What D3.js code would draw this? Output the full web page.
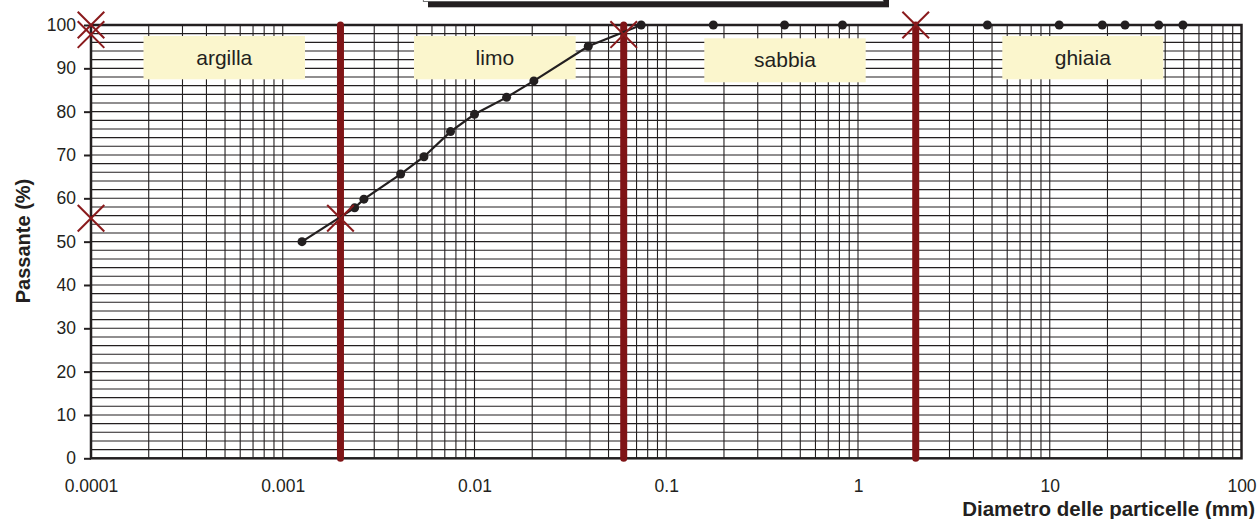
<!DOCTYPE html>
<html>
<head>
<meta charset="utf-8">
<script src="https://cdn.jsdelivr.net/npm/d3@7"></script>
<style>
  html, body { margin: 0; padding: 0; background: #ffffff; }
  svg { display: block; font-family: "Liberation Sans", Arial, sans-serif; }
</style>
</head>
<body>
<svg id="chart" width="1257" height="519"></svg>
<script>
// ---- data ----
const diameters = [0.00126, 0.00237, 0.00265, 0.00412, 0.00545, 0.0075, 0.0100, 0.0147, 0.0204, 0.0392, 0.074, 0.176, 0.414, 0.83, 4.73, 11.2, 18.8, 24.7, 37.0, 49.5];
const passing   = [50, 57.8, 59.8, 65.6, 69.6, 75.4, 79.4, 83.3, 87.1, 95.1, 100, 100, 100, 100, 100, 100, 100, 100, 100, 100];
const boundaries = [0.002, 0.06, 2];
const boundaryPassing = [55.4, 97.8, 100];
const zoneNames = ["argilla", "limo", "sabbia", "ghiaia"];
const xTickValues = [0.0001, 0.001, 0.01, 0.1, 1, 10, 100];
const xTickLabels = ["0.0001", "0.001", "0.01", "0.1", "1", "10", "100"];
const yTickValues = [0, 10, 20, 30, 40, 50, 60, 70, 80, 90, 100];
const xTitle = "Diametro delle particelle (mm)";
const yTitle = "Passante (%)";

// ---- layout (pixels, not data) ----
const W = 1257, H = 519;
const plot = { left: 91, right: 1241.5, top: 25, bottom: 458.3 };
const zoneBoxes = [
  { x0: 143.5, x1: 305, y0: 36, y1: 79.3 },
  { x0: 414, x1: 575.7, y0: 36, y1: 79.3 },
  { x0: 704.3, x1: 865.7, y0: 38.3, y1: 82.3 },
  { x0: 1002.3, x1: 1163.3, y0: 36, y1: 79.3 }
];
const ink = "#231f20";
const red = "#7f1416";
const fontFam = "Liberation Sans, Arial, sans-serif";

const svg = d3.select("#chart");
const x = d3.scaleLog().domain([0.0001, 100]).range([plot.left, plot.right]);
const y = d3.scaleLinear().domain([0, 100]).range([plot.bottom, plot.top]);

// title box at top (cut off)
svg.append("rect").attr("x", 428).attr("y", -40).attr("width", 461).attr("height", 47.3).attr("fill", ink);
svg.append("rect").attr("x", 423.3).attr("y", -45).attr("width", 460).attr("height", 46.5)
  .attr("fill", "#ffffff").attr("stroke", "#555").attr("stroke-width", 0.8);

// gridlines
const g = svg.append("g");
const hVals = d3.range(2, 100, 2);
g.selectAll("line.h").data(hVals).join("line")
  .attr("x1", plot.left).attr("x2", plot.right)
  .attr("y1", d => y(d)).attr("y2", d => y(d))
  .attr("stroke", ink).attr("stroke-width", 1.1);
const vVals = [];
for (let e = -4; e < 2; e++) for (let k = 1; k <= 9; k++) { const v = k * Math.pow(10, e); if (v > 0.0001) vVals.push(v); }
g.selectAll("line.v").data(vVals).join("line")
  .attr("x1", d => x(d)).attr("x2", d => x(d))
  .attr("y1", plot.top).attr("y2", plot.bottom)
  .attr("stroke", ink).attr("stroke-width", 1.1);

// zone label boxes
const zl = svg.append("g");
zoneNames.forEach((name, i) => {
  const b = zoneBoxes[i];
  zl.append("rect").attr("x", b.x0).attr("y", b.y0).attr("width", b.x1 - b.x0).attr("height", b.y1 - b.y0)
    .attr("fill", "#fbf6cd");
  zl.append("text").attr("x", (b.x0 + b.x1) / 2).attr("y", (b.y0 + b.y1) / 2 + 7)
    .attr("text-anchor", "middle").attr("font-size", 21).attr("fill", ink).text(name);
});

// frame
svg.append("rect").attr("x", plot.left).attr("y", plot.top)
  .attr("width", plot.right - plot.left).attr("height", plot.bottom - plot.top)
  .attr("fill", "none").attr("stroke", ink).attr("stroke-width", 2.5);

// y axis ticks + labels
const yAxis = d3.axisLeft(y).tickValues(yTickValues).tickSize(7).tickPadding(8).tickFormat(d3.format("d"));
const ya = svg.append("g").attr("transform", `translate(${plot.left},0)`).call(yAxis);
ya.select(".domain").remove();
ya.selectAll(".tick line").attr("stroke", ink).attr("stroke-width", 2);
ya.selectAll(".tick text").attr("font-size", 17.5).attr("fill", ink).attr("font-family", fontFam);

// x axis labels
const xAxis = d3.axisBottom(x).tickValues(xTickValues).tickSize(0).tickPadding(0)
  .tickFormat((d, i) => xTickLabels[i]);
const xa = svg.append("g").attr("transform", `translate(0,${plot.bottom + 21})`).call(xAxis);
xa.select(".domain").remove();
xa.selectAll(".tick text").attr("font-size", 17.5).attr("fill", ink).attr("font-family", fontFam);

// boundary red lines
svg.append("g").selectAll("line").data(boundaries).join("line")
  .attr("x1", d => x(d)).attr("x2", d => x(d))
  .attr("y1", plot.top).attr("y2", plot.bottom)
  .attr("stroke", red).attr("stroke-width", 7).attr("stroke-linecap", "round");

// curve
const pts = diameters.map((d, i) => [d, passing[i]]);
svg.append("path").datum(pts)
  .attr("d", d3.line().x(d => x(d[0])).y(d => y(d[1])))
  .attr("fill", "none").attr("stroke", ink).attr("stroke-width", 2.2);
svg.append("g").selectAll("circle").data(pts).join("circle")
  .attr("cx", d => x(d[0])).attr("cy", d => y(d[1])).attr("r", 4.5).attr("fill", ink);

// red X markers: at boundaries and projected on y axis
const crosses = [];
boundaries.forEach((b, i) => {
  crosses.push([b, boundaryPassing[i]]);
  crosses.push([0.0001, boundaryPassing[i]]);
});
const cs = 13.3;
const cg = svg.append("g");
crosses.forEach(c => {
  const cx = x(c[0]), cy = y(c[1]);
  cg.append("line").attr("x1", cx - cs).attr("y1", cy - cs).attr("x2", cx + cs).attr("y2", cy + cs)
    .attr("stroke", "#8a1a1c").attr("stroke-width", 2);
  cg.append("line").attr("x1", cx - cs).attr("y1", cy + cs).attr("x2", cx + cs).attr("y2", cy - cs)
    .attr("stroke", "#8a1a1c").attr("stroke-width", 2);
});

// titles
svg.append("text").attr("x", 1255).attr("y", 516).attr("text-anchor", "end")
  .attr("font-size", 20.5).attr("font-weight", "bold").attr("fill", ink).attr("font-family", fontFam).text(xTitle);
svg.append("text").attr("transform", `translate(30,241) rotate(-90)`).attr("text-anchor", "middle")
  .attr("font-size", 20).attr("font-weight", "bold").attr("fill", ink).attr("font-family", fontFam).text(yTitle);
</script>
</body>
</html>
